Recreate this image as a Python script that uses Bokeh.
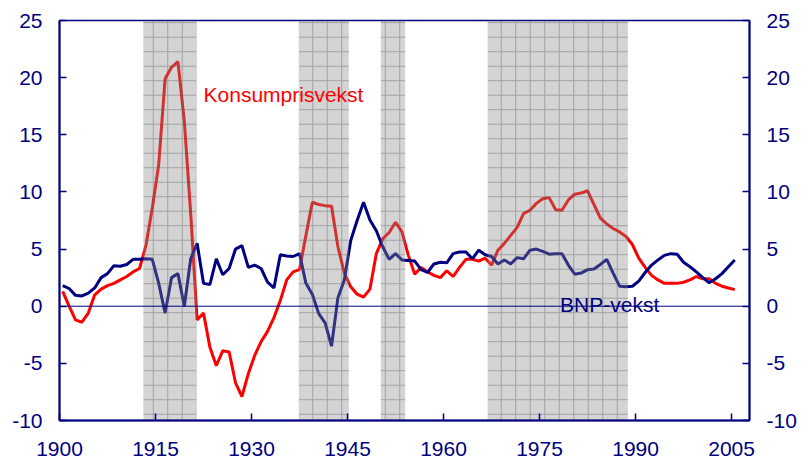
from bokeh.plotting import figure
from bokeh.models import Range1d, LinearAxis, FixedTicker, Span, Label
from bokeh.embed import file_html
from bokeh.resources import INLINE

# ---- data ----
years = list(range(1900, 2006))
konsumprisvekst = [
    1.3, 0.0, -1.2, -1.4, -0.6, 1.0, 1.5, 1.8, 2.0, 2.3,          # 1900-09
    2.6, 3.0, 3.3, 5.3, 8.6, 12.4, 19.9, 20.9, 21.4, 16.2,        # 1910-19
    8.1, -1.2, -0.6, -3.6, -5.2, -3.9, -4.0, -6.7, -7.9, -5.9,    # 1920-29
    -4.3, -3.1, -2.2, -1.0, 0.5, 2.3, 3.0, 3.2, 6.2, 9.1,         # 1930-39
    8.9, 8.8, 8.75, 5.2, 2.9, 1.7, 1.05, 0.8, 1.5, 4.6,           # 1940-49
    5.9, 6.45, 7.35, 6.5, 4.45, 2.8, 3.4, 3.0, 2.7, 2.5,          # 1950-59
    3.1, 2.6, 3.4, 4.1, 4.1, 3.95, 4.2, 3.6, 4.9, 5.5,            # 1960-69
    6.2, 6.9, 8.1, 8.4, 9.0, 9.4, 9.5, 8.45, 8.4, 9.3,            # 1970-79
    9.8, 9.9, 10.1, 8.9, 7.7, 7.2, 6.8, 6.5, 6.1, 5.4,            # 1980-89
    4.2, 3.4, 2.7, 2.3, 2.0, 2.0, 2.0, 2.1, 2.3, 2.6,             # 1990-99
    2.4, 2.4, 2.0, 1.75, 1.6, 1.45,                               # 2000-05
]
bnp_vekst = [
    1.8, 1.55, 0.95, 0.9, 1.15, 1.6, 2.5, 2.85, 3.55, 3.5,        # 1900-09
    3.65, 4.1, 4.1, 4.15, 4.1, 2.0, -0.6, 2.5, 2.85, 0.0,         # 1910-19
    4.15, 5.5, 2.0, 1.9, 4.15, 2.75, 3.3, 5.0, 5.3, 3.4,          # 1920-29
    3.6, 3.3, 2.1, 1.6, 4.5, 4.4, 4.35, 4.6, 2.0, 1.05,           # 1930-39
    -0.65, -1.45, -3.5, 0.75, 2.3, 5.75, 7.5, 9.1, 7.55, 6.6,     # 1940-49
    5.2, 4.1, 4.6, 4.05, 4.0, 3.95, 3.2, 2.95, 3.7, 3.85,         # 1950-59
    3.8, 4.6, 4.75, 4.75, 4.15, 4.9, 4.5, 4.35, 3.7, 4.05,        # 1960-69
    3.7, 4.25, 4.15, 4.9, 5.0, 4.8, 4.55, 4.6, 4.6, 3.6,          # 1970-79
    2.8, 2.9, 3.2, 3.25, 3.65, 4.1, 2.9, 1.75, 1.7, 1.75,         # 1980-89
    2.2, 2.95, 3.6, 4.05, 4.45, 4.6, 4.55, 3.85, 3.45, 3.0,       # 1990-99
    2.5, 2.05, 2.4, 2.85, 3.45, 4.05,                             # 2000-05
]
shade_start = [1913.1, 1937.4, 1950.2, 1966.9]
shade_end = [1921.4, 1945.2, 1954.0, 1988.8]
x_ticks = [1900, 1915, 1930, 1945, 1960, 1975, 1990, 2005]
y_ticks = [-10, -5, 0, 5, 10, 15, 20, 25]

NAVY = "#000080"
RED = "#FF0000"
FONT = "Liberation Sans"

# annual values plotted at mid-year
xpos = [y + 0.5 for y in years]

p = figure(width=802, height=465, x_range=Range1d(1900, 2007.8),
           y_range=Range1d(-10, 25), output_backend="svg",
           toolbar_location=None, min_border_left=59, min_border_right=53,
           min_border_top=20, min_border_bottom=45)
p.xgrid.visible = False
p.ygrid.visible = False
p.outline_line_color = NAVY
p.outline_line_width = 1.5
p.background_fill_color = "white"
p.border_fill_color = "white"

p.line(xpos, konsumprisvekst, line_color=RED, line_width=3)
p.line(xpos, bnp_vekst, line_color=NAVY, line_width=3)

p.quad(left=shade_start, right=shade_end, bottom=-10, top=25,
       fill_color="#888888", fill_alpha=0.36, line_color=None,
       hatch_pattern="+", hatch_color="#555555", hatch_alpha=0.4,
       hatch_scale=14.5, hatch_weight=1)

p.add_layout(Span(location=0, dimension="width", line_color=NAVY, line_width=1))

p.add_layout(LinearAxis(), "right")


def style(ax, standoff):
    ax.axis_line_color = NAVY
    ax.axis_line_width = 2
    ax.major_tick_line_color = NAVY
    ax.major_tick_line_width = 1.5
    ax.major_tick_in = 7
    ax.major_tick_out = 0
    ax.minor_tick_line_color = None
    ax.major_label_text_color = NAVY
    ax.major_label_text_font = FONT
    ax.major_label_text_font_size = "21px"
    ax.major_label_standoff = standoff


for ax in p.xaxis:
    ax.ticker = FixedTicker(ticks=x_ticks)
    ax.major_label_overrides = {t: str(t) for t in x_ticks}
    style(ax, 21)
for ax in p.yaxis:
    ax.ticker = FixedTicker(ticks=y_ticks)
    ax.major_label_overrides = {t: str(t) for t in y_ticks}
    style(ax, 17)

p.add_layout(Label(x=1922.5, y=18.56, text="Konsumprisvekst", text_color=RED,
                   text_font=FONT, text_font_size="21px",
                   text_baseline="alphabetic", text_align="left"))
p.add_layout(Label(x=1978.2, y=0.17, text="BNP-vekst", text_color=NAVY,
                   text_font=FONT, text_font_size="21px",
                   text_baseline="alphabetic", text_align="left"))

open("out.html", "w").write(file_html(p, INLINE))
